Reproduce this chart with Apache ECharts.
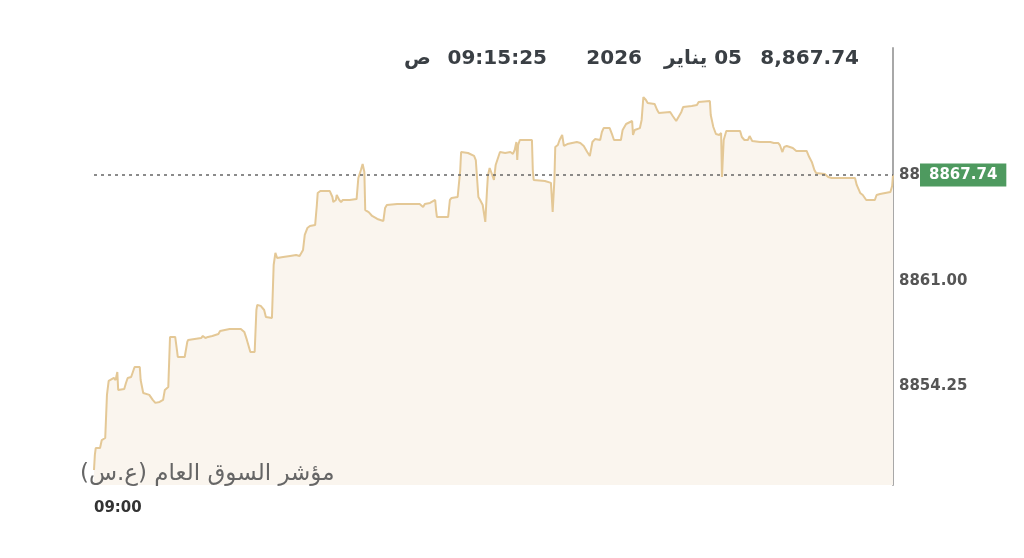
<!DOCTYPE html>
<html><head><meta charset="utf-8">
<script src="https://cdn.jsdelivr.net/npm/echarts@6/dist/echarts.min.js"></script>
<style>html,body{margin:0;padding:0;background:#fff}#c{width:1024px;height:558px;direction:rtl}</style>
</head><body><div id="c"></div>
<script>
// seconds after 09:00:00
const timeSeconds = [0,1,2,7,9,13,15,17,23,25,27,28,35,37,39,43,45,47,53,54,57,64,66,68,71,76,80,82,86,88,94,96,97,105,108,109,124,126,129,132,137,144,146,157,170,174,177,181,186,188,189,193,197,199,206,208,210,212,219,227,234,238,242,244,247,250,256,258,259,262,273,276,277,280,281,284,286,288,296,304,306,309,311,313,314,318,322,328,335,337,339,351,366,377,381,383,389,395,396,397,410,412,414,421,424,425,427,433,435,440,442,445,447,450,453,455,456,458,461,463,465,470,476,482,485,487,489,490,491,493,507,508,509,522,529,531,533,534,537,539,542,544,548,559,563,567,571,574,577,580,586,588,590,597,600,602,610,612,616,623,624,626,632,634,636,639,641,649,652,654,667,670,674,676,680,682,692,698,700,713,714,717,720,724,726,727,729,732,740,748,750,753,757,759,762,771,783,787,792,794,797,799,802,809,813,825,828,831,834,836,846,850,854,881,883,887,890,894,904,906,910,922,924,925];
const indexValues = [8848.92,8849.88,8850.32,8850.32,8850.83,8850.96,8853.71,8854.60,8854.79,8854.66,8855.17,8854.03,8854.09,8854.47,8854.79,8854.85,8855.17,8855.49,8855.49,8854.66,8853.83,8853.71,8853.71,8853.39,8853.20,8853.26,8853.39,8854.03,8854.22,8857.41,8857.41,8856.58,8856.13,8856.13,8857.09,8857.22,8857.34,8857.47,8857.34,8857.41,8857.47,8857.60,8857.79,8857.92,8857.92,8857.73,8857.22,8856.45,8856.45,8859.13,8859.45,8859.39,8859.13,8858.68,8858.62,8862.00,8862.77,8862.45,8862.51,8862.58,8862.64,8862.58,8862.96,8863.92,8864.36,8864.49,8864.55,8865.83,8866.60,8866.72,8866.72,8866.34,8866.02,8866.15,8866.47,8866.15,8866.02,8866.15,8866.15,8866.21,8867.55,8868.06,8868.45,8867.94,8865.51,8865.38,8865.13,8864.94,8864.81,8865.64,8865.83,8865.90,8865.90,8865.90,8865.70,8865.90,8865.96,8866.15,8865.51,8865.07,8865.07,8866.15,8866.28,8866.34,8868.06,8869.21,8869.28,8869.15,8869.15,8868.96,8868.70,8866.34,8866.15,8865.83,8864.75,8866.79,8867.68,8868.19,8867.75,8867.43,8868.38,8869.21,8869.15,8869.21,8869.09,8869.34,8869.85,8868.70,8869.66,8869.98,8869.98,8868.06,8867.43,8867.36,8867.24,8865.38,8867.43,8869.53,8869.66,8869.98,8870.30,8869.60,8869.72,8869.85,8869.79,8869.60,8869.21,8868.96,8869.85,8870.04,8869.98,8870.49,8870.74,8870.74,8870.30,8869.98,8869.98,8870.62,8871.00,8871.19,8870.30,8870.62,8870.74,8871.26,8872.72,8872.53,8872.34,8872.28,8871.89,8871.70,8871.77,8871.51,8871.19,8871.13,8871.77,8872.08,8872.15,8872.21,8872.40,8872.47,8871.57,8870.81,8870.36,8870.30,8870.43,8867.62,8869.98,8870.55,8870.55,8870.55,8870.17,8869.98,8869.98,8870.23,8869.92,8869.85,8869.85,8869.79,8869.79,8869.66,8869.21,8869.53,8869.60,8869.47,8869.28,8869.28,8868.89,8868.58,8868.06,8867.87,8867.81,8867.62,8867.55,8867.55,8867.11,8866.60,8866.47,8866.15,8866.15,8866.47,8866.53,8866.66,8867.04,8867.74];
const yTickValues = [8854.25, 8861.00, 8867.75];
const xTickValues = [0];
const xTickLabels = ['09:00'];
const lastValue = 8867.74;
const titleValue = '8,867.74';
const titleDayMonth = '05 يناير';
const titleYear = '2026';
const titleClock = '09:15:25';
const titleAmPm = 'ص';
const seriesName = 'مؤشر السوق العام (ع.س)';
const xMin = 0, xMax = 925;
const yMin = 8847.96, yMax = 8875.85;

const FONT = '"DejaVu Sans", sans-serif';
const chart = echarts.init(document.getElementById('c'), null, {renderer: 'canvas'});
const data = timeSeconds.map((t, i) => [t, indexValues[i]]);
const titleStyle = (text) => ({text: text, fill: '#3a3f44', font: 'bold 20px ' + FONT, textAlign: 'right', textVerticalAlign: 'middle', verticalAlign: 'middle'});
chart.setOption({
  animation: false,
  backgroundColor: '#fff',
  textStyle: {fontFamily: FONT},
  grid: {left: 94, right: 131, top: 48, bottom: 73, containLabel: false},
  xAxis: {
    type: 'value', min: xMin, max: xMax,
    axisLine: {show: false}, axisTick: {show: false}, splitLine: {show: false},
    axisLabel: {
      customValues: xTickValues,
      formatter: v => xTickLabels[xTickValues.indexOf(v)] || '',
      align: 'left', margin: 16,
      color: '#333', fontWeight: 'bold', fontSize: 15, fontFamily: FONT
    }
  },
  yAxis: {
    type: 'value', position: 'right', min: yMin, max: yMax,
    axisLine: {show: true, onZero: false, lineStyle: {color: '#a8a8a8', width: 2}},
    axisTick: {show: false}, splitLine: {show: false},
    axisLabel: {
      customValues: yTickValues,
      formatter: v => v.toFixed(2),
      margin: 6, color: '#555', fontWeight: 'bold', fontSize: 15, fontFamily: FONT
    }
  },
  series: [{
    type: 'line', name: seriesName, data: data,
    symbol: 'none', smooth: false,
    lineStyle: {color: '#e4c896', width: 2},
    areaStyle: {color: '#faf5ee', opacity: 1},
    markLine: {
      silent: true, symbol: 'none',
      lineStyle: {color: '#666', type: [3, 4], width: 1.5},
      label: {
        position: 'end', distance: 27,
        formatter: lastValue.toFixed(2),
        backgroundColor: '#4e9a5f', color: '#fff', fontWeight: 'bold',
        fontSize: 15, fontFamily: FONT, padding: [4, 9], borderRadius: 0
      },
      data: [{yAxis: lastValue}]
    }
  }],
  graphic: [
    {type: 'text', x: 859, y: 59, z: 10, style: titleStyle(titleValue)},
    {type: 'text', x: 742, y: 59, z: 10, style: titleStyle(titleDayMonth)},
    {type: 'text', x: 642, y: 59, z: 10, style: titleStyle(titleYear)},
    {type: 'text', x: 547, y: 59, z: 10, style: titleStyle(titleClock)},
    {type: 'text', x: 431, y: 59, z: 10, style: titleStyle(titleAmPm)},
    {type: 'text', x: 80, y: 474, z: 10, style: {text: seriesName, fill: '#666', font: '23px ' + FONT, textAlign: 'left', textVerticalAlign: 'middle', verticalAlign: 'middle'}}
  ]
});
</script></body></html>
